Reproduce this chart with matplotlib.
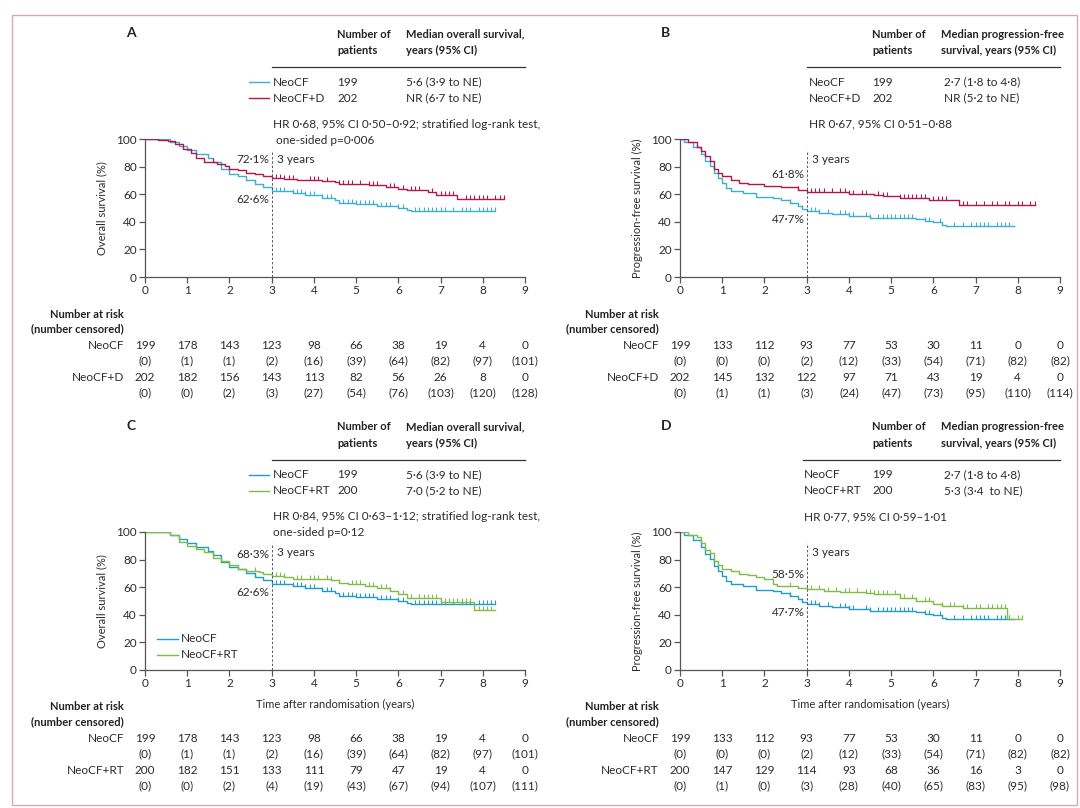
import numpy as np
import matplotlib.pyplot as plt
from matplotlib.transforms import blended_transform_factory

plt.rcParams['font.family'] = ['Lato', 'DejaVu Sans']
plt.rcParams['font.size'] = 7.5

W, H = 1080, 808
TXT = "#2b2b2b"
AXC = "#555555"
CYAN = "#3aafd2"
BLUE = "#1f9bcc"
RED = "#b3174b"
GREEN = "#7dbd45"

# KAPLAN-MEIER CURVES (years, %)
os_neocf_t = [0, 0.6, 0.8, 1.0, 1.2, 1.5, 1.6, 1.8, 2.0, 2.2, 2.4, 2.6, 2.8, 3.0, 3.2, 3.5, 3.8, 4.2, 4.5, 4.6, 5.0, 5.5, 6.0, 6.2, 6.3, 8.3]
os_neocf_s = [100, 98, 95, 92, 89, 86.5, 83, 78.5, 75, 73, 70, 67.6, 65, 62.6, 62, 60.8, 59.6, 57.6, 55.9, 53.4, 52.9, 51.5, 50.2, 48.5, 47.8, 47.8]
os_neocf_cens = [0.55, 2.6, 3.1, 3.2, 3.3, 3.5, 3.6, 3.7, 3.8, 3.9, 4.0, 4.2, 4.3, 4.4, 4.7, 4.8, 4.9, 5.0, 5.1, 5.2, 5.3, 5.4, 5.6, 5.7, 5.8, 6.0, 6.1,
                 6.4, 6.5, 6.6, 6.7, 6.8, 6.9, 7.0, 7.1, 7.3, 7.5, 7.6, 7.7, 7.9, 8.0, 8.1, 8.2, 8.3]

os_d_t = [0, 0.3, 0.55, 0.7, 0.9, 1.1, 1.2, 1.4, 1.7, 1.9, 2.0, 2.2, 2.4, 2.6, 2.8, 3.0, 3.3, 3.6, 4.2, 4.5, 4.6, 5.0, 5.3, 5.7, 6.0, 6.2, 6.7, 6.9, 7.4, 8.5]
os_d_s = [100, 99.3, 98.5, 96.3, 93, 90, 86, 83.6, 82, 80.4, 78.4, 77.2, 75.5, 75, 73.5, 72.1, 71.3, 70.6, 69.9, 68.6, 67.6, 67.2, 66.7, 65.2, 64, 62.7, 61.3, 59.6, 56.5, 56.5]
os_d_cens = [1.6, 3.0, 3.1, 3.2, 3.3, 3.4, 3.5, 3.9, 4.0, 4.1, 4.3, 4.6, 4.7, 4.8, 4.9, 5.1, 5.3, 5.4, 5.5, 5.8, 5.9, 6.1, 6.3, 6.4, 6.5,
             6.8, 7.0, 7.1, 7.2, 7.3, 7.6, 7.7, 7.8, 7.9, 8.0, 8.1, 8.3, 8.4, 8.5]

os_rt_t = [0, 0.6, 0.8, 1.0, 1.2, 1.4, 1.6, 1.8, 2.0, 2.2, 2.4, 2.7, 2.8, 3.0, 3.3, 3.5, 4.4, 4.6, 4.8, 5.2, 5.5, 5.8, 6.0, 6.2, 7.0, 7.8, 8.3]
os_rt_s = [100, 97.8, 93, 89.5, 87.6, 85.2, 81.1, 78.7, 75.8, 73.4, 71.5, 70.8, 69.9, 68.3, 67.5, 65.6, 65, 63.2, 62, 60.8, 59.1, 57.2, 54.8, 52.4, 49.5, 43.5, 43.5]
os_rt_cens = [0.55, 1.2, 1.6, 2.6, 3.0, 3.1, 3.2, 3.3, 3.6, 3.7, 3.9, 4.0, 4.1, 4.3, 4.4, 4.6, 4.9, 5.0, 5.1, 5.3, 5.4, 5.6, 5.7, 5.8, 6.1,
              6.3, 6.5, 6.6, 6.7, 6.8, 6.9, 7.1, 7.2, 7.3, 7.4, 7.5, 7.6, 7.7, 7.9, 8.0, 8.1, 8.2]

pfs_neocf_t = [0, 0.1, 0.3, 0.5, 0.6, 0.7, 0.8, 0.9, 1.0, 1.1, 1.2, 1.5, 1.8, 2.2, 2.4, 2.6, 2.8, 2.9, 3.0, 3.3, 3.6, 4.0, 4.5, 5.0, 5.6, 5.8, 6.0, 6.2, 6.3, 7.9]
pfs_neocf_s = [100, 97.5, 93.9, 89, 84, 80.4, 75.5, 71.8, 68, 64.5, 62, 60.8, 58.3, 57.1, 55.9, 53.9, 51.5, 49.5, 47.7, 46.6, 45.6, 44.1, 43.1, 42.4, 41.7, 40.7, 40, 37.5, 37, 37]
pfs_neocf_cens = [2.6, 2.9, 3.1, 3.2, 3.3, 3.5, 3.8, 3.9, 4.0, 4.1, 4.4, 4.5, 4.7, 4.8, 4.9, 5.0, 5.1, 5.2, 5.3, 5.4, 5.5, 5.8, 5.9, 6.15,
                  6.5, 6.7, 6.9, 7.0, 7.1, 7.2, 7.3, 7.5, 7.6, 7.7, 7.8]

pfs_d_t = [0, 0.2, 0.4, 0.5, 0.6, 0.7, 0.8, 0.9, 1.0, 1.2, 1.4, 1.6, 2.0, 2.4, 2.8, 3.0, 3.3, 4.0, 4.6, 4.8, 5.2, 5.6, 5.9, 6.6, 8.4]
pfs_d_s = [100, 97.5, 93.9, 91.4, 87.7, 84, 78, 75.5, 73, 70, 68, 67.4, 66.2, 65.2, 63.2, 61.8, 61.3, 60.3, 59.6, 58.8, 57.6, 57.1, 55.9, 52.5, 52.5]
pfs_d_cens = [2.8, 3.1, 3.2, 3.3, 3.4, 3.6, 3.8, 3.9, 4.0, 4.1, 4.3, 4.4, 4.7, 4.8, 4.9, 5.2, 5.3, 5.4, 5.5, 5.6, 5.7, 5.8, 6.0, 6.1,
              6.2, 6.3, 6.7, 6.8, 7.0, 7.2, 7.4, 7.5, 7.7, 7.8, 8.0, 8.1, 8.3, 8.4]

pfs_rt_t = [0, 0.2, 0.4, 0.5, 0.6, 0.7, 0.8, 0.9, 1.0, 1.2, 1.4, 1.6, 1.8, 2.0, 2.2, 2.3, 2.8, 3.0, 3.4, 3.8, 4.4, 4.6, 5.2, 5.6, 6.0, 6.2, 6.7, 7.75, 8.1]
pfs_rt_s = [100, 97.8, 96.2, 91.9, 87, 84.7, 78.7, 75.8, 73.4, 71.5, 69.9, 68.7, 67.2, 65.6, 62, 60.8, 59.1, 58.5, 57.2, 56.5, 56, 54.8, 52.4, 50, 47.6, 46.4, 45, 36.8, 36.8]
pfs_rt_cens = [2.6, 3.0, 3.1, 3.3, 3.5, 3.7, 3.9, 4.0, 4.2, 4.4, 4.5, 4.6, 4.7, 4.8, 4.9, 5.1, 5.2, 5.3, 5.5, 5.6, 5.8, 5.9, 6.2,
               6.4, 6.5, 6.7, 6.8, 7.0, 7.1, 7.3, 7.4, 7.5, 7.6, 7.7, 7.8, 8.0, 8.1]

# NUMBER AT RISK (NUMBER CENSORED)
years = [0, 1, 2, 3, 4, 5, 6, 7, 8, 9]
risk_os_neocf = [199, 178, 143, 123, 98, 66, 38, 19, 4, 0]
cens_os_neocf = [0, 1, 1, 2, 16, 39, 64, 82, 97, 101]
risk_os_d = [202, 182, 156, 143, 113, 82, 56, 26, 8, 0]
cens_os_d = [0, 0, 2, 3, 27, 54, 76, 103, 120, 128]
risk_os_rt = [200, 182, 151, 133, 111, 79, 47, 19, 4, 0]
cens_os_rt = [0, 0, 2, 4, 19, 43, 67, 94, 107, 111]
risk_pfs_neocf = [199, 133, 112, 93, 77, 53, 30, 11, 0, 0]
cens_pfs_neocf = [0, 0, 0, 2, 12, 33, 54, 71, 82, 82]
risk_pfs_d = [202, 145, 132, 122, 97, 71, 43, 19, 4, 0]
cens_pfs_d = [0, 1, 1, 3, 24, 47, 73, 95, 110, 114]
risk_pfs_rt = [200, 147, 129, 114, 93, 68, 36, 16, 3, 0]
cens_pfs_rt = [0, 1, 0, 3, 28, 40, 65, 83, 95, 98]

panels = [
    dict(letter="A", x0=145, y0=139, ylabel="Overall survival (%)",
         head2=["Median overall survival,", "years (95% CI)"], headx=337, medx=406, linex=(272, 525), namex=273,
         groups=[("NeoCF", CYAN, 199, "5·6 (3·9 to NE)", os_neocf_t, os_neocf_s, os_neocf_cens, risk_os_neocf, cens_os_neocf),
                 ("NeoCF+D", RED, 202, "NR (6·7 to NE)", os_d_t, os_d_s, os_d_cens, risk_os_d, cens_os_d)],
         hr=["HR 0·68, 95% CI 0·50–0·92; stratified log-rank test,", " one-sided p=0·006"],
         pct=[("72·1%", 84.8), ("62·6%", 55.8)], hdr_legend=True, in_legend=False, xlabel=False),
    dict(letter="B", x0=680, y0=139, ylabel="Progression-free survival (%)",
         head2=["Median progression-free", "survival, years (95% CI)"], headx=872, medx=941, linex=(807, 1060), namex=809,
         groups=[("NeoCF", CYAN, 199, " 2·7 (1·8 to 4·8)", pfs_neocf_t, pfs_neocf_s, pfs_neocf_cens, risk_pfs_neocf, cens_pfs_neocf),
                 ("NeoCF+D", RED, 202, " NR (5·2 to NE)", pfs_d_t, pfs_d_s, pfs_d_cens, risk_pfs_d, cens_pfs_d)],
         hr=["HR 0·67, 95% CI 0·51–0·88"],
         pct=[("61·8%", 74.0), ("47·7%", 42.0)], hdr_legend=False, in_legend=False, xlabel=False),
    dict(letter="C", x0=145, y0=532, ylabel="Overall survival (%)",
         head2=["Median overall survival,", "years (95% CI)"], headx=337, medx=406, linex=(272, 525), namex=273,
         groups=[("NeoCF", BLUE, 199, "5·6 (3·9 to NE)", os_neocf_t, os_neocf_s, os_neocf_cens, risk_os_neocf, cens_os_neocf),
                 ("NeoCF+RT", GREEN, 200, "7·0 (5·2 to NE)", os_rt_t, os_rt_s, os_rt_cens, risk_os_rt, cens_os_rt)],
         hr=["HR 0·84, 95% CI 0·63–1·12; stratified log-rank test,", "one-sided p=0·12"],
         pct=[("68·3%", 84.0), ("62·6%", 56.0)], hdr_legend=True, in_legend=True, xlabel=True),
    dict(letter="D", x0=680, y0=532, ylabel="Progression-free survival (%)",
         head2=["Median progression-free", "survival, years (95% CI)"], headx=872, medx=941, linex=(803, 1060), namex=804,
         groups=[("NeoCF", BLUE, 199, " 2·7 (1·8 to 4·8)", pfs_neocf_t, pfs_neocf_s, pfs_neocf_cens, risk_pfs_neocf, cens_pfs_neocf),
                 ("NeoCF+RT", GREEN, 200, " 5·3 (3·4  to NE)", pfs_rt_t, pfs_rt_s, pfs_rt_cens, risk_pfs_rt, cens_pfs_rt)],
         hr=["HR 0·77, 95% CI 0·59–1·01"],
         pct=[("58·5%", 69.0), ("47·7%", 41.7)], hdr_legend=False, in_legend=False, xlabel=True),
]


def fx(x):
    return x / W


def fy(y):
    return 1 - y / H


fig = plt.figure(figsize=(W / 100, H / 100), dpi=100)

# PINK FRAME ROUND THE WHOLE FIGURE
frame = plt.Rectangle((fx(12), fy(805)), fx(1077) - fx(12), fy(15) - fy(805), transform=fig.transFigure,
                      fill=False, edgecolor="#dba7b7", lw=1.0)
fig.patches.append(frame)

AXW, AXH = 380, 138
for p in panels:
    x0, y0 = p["x0"], p["y0"]
    ax = fig.add_axes([fx(x0), fy(y0 + AXH), AXW / W, AXH / H])
    ax.set_xlim(0, 9)
    ax.set_ylim(0, 100)
    ax.spines[["top", "right"]].set_visible(False)
    for s in ["left", "bottom"]:
        ax.spines[s].set_color(AXC)
        ax.spines[s].set_linewidth(0.9)
    ax.set_xticks(years)
    ax.set_yticks([0, 20, 40, 60, 80, 100])
    ax.tick_params(colors=AXC, labelcolor=TXT, length=4, width=0.9, labelsize=8.5, pad=2)
    ax.patch.set_alpha(0)

    # CURVES + CENSOR TICKS
    for name, col, n, med, t, sv, cens, risk, cn in p["groups"]:
        ax.step(t, sv, where="post", color=col, lw=1.0)
        t_arr = np.array(t)
        s_arr = np.array(sv)
        idx = np.searchsorted(t_arr, cens, side="right") - 1
        ax.plot(cens, s_arr[idx], ls="none", marker=2, ms=3.2, mew=0.8, color=col)

    # 3 YEAR LINE + LABELS
    ax.plot([3, 3], [0, 92], ls=(0, (2.5, 2)), color="#4d5b69", lw=0.7)
    ax.text(3.12, 84.8, "3 years", ha="left", va="center", color=TXT, fontsize=8.5)
    for lab, yv in p["pct"]:
        ax.text(2.95, yv, lab, ha="right", va="center", color=TXT, fontsize=8.5)

    if p["in_legend"]:
        for (name, col, *_), yy in zip(p["groups"], [639, 655]):
            fig.lines.append(plt.Line2D([fx(157), fx(178)], [fy(yy), fy(yy)], color=col, lw=1.0, transform=fig.transFigure))
            fig.text(fx(181), fy(yy), name, ha="left", va="center", color=TXT, fontsize=8.5)

    fig.text(fx(x0 - 43), fy(y0 + AXH / 2), p["ylabel"], rotation=90, ha="center", va="center", color=TXT, fontsize=8)
    if p["xlabel"]:
        fig.text(fx(x0 + 190), fy(704), "Time after randomisation (years)", ha="center", va="center", color=TXT, fontsize=8)

    # HEADER TABLE ABOVE EACH PLOT
    top = y0 - 106
    fig.text(fx(x0 - 14), fy(top), p["letter"], ha="center", va="center", fontsize=10, fontweight="bold", color="#222222")
    fig.text(fx(p["headx"]), fy(top + 1), "Number of", ha="left", va="center", fontweight="bold", color="#222222", fontsize=8)
    fig.text(fx(p["headx"]), fy(top + 17), "patients", ha="left", va="center", fontweight="bold", color="#222222", fontsize=8)
    fig.text(fx(p["medx"]), fy(top + 1), p["head2"][0], ha="left", va="center", fontweight="bold", color="#222222", fontsize=8)
    fig.text(fx(p["medx"]), fy(top + 17), p["head2"][1], ha="left", va="center", fontweight="bold", color="#222222", fontsize=8)
    fig.lines.append(plt.Line2D([fx(p["linex"][0]), fx(p["linex"][1])], [fy(top + 34), fy(top + 34)],
                                color="#333333", lw=0.9, transform=fig.transFigure))
    for k, (name, col, n, med, *_) in enumerate(p["groups"]):
        yy = top + 49 + 16 * k
        if p["hdr_legend"]:
            fig.lines.append(plt.Line2D([fx(249), fx(269)], [fy(yy), fy(yy)], color=col, lw=1.0, transform=fig.transFigure))
        fig.text(fx(p["namex"]), fy(yy), name, ha="left", va="center", color=TXT, fontsize=8.5)
        fig.text(fx(p["headx"]), fy(yy), str(n), ha="left", va="center", color=TXT, fontsize=8.5)
        fig.text(fx(p["medx"]), fy(yy), med, ha="left", va="center", color=TXT, fontsize=8.5)
    for k, line in enumerate(p["hr"]):
        fig.text(fx(p["namex"]), fy(top + 91 + 16 * k), line, ha="left", va="center", color=TXT, fontsize=8.5)

    # NUMBER AT RISK TABLE
    rt = y0 + AXH + 37
    fig.text(fx(x0 - 21), fy(rt), "Number at risk", ha="right", va="center", fontweight="bold", color="#222222", fontsize=8)
    fig.text(fx(x0 - 21), fy(rt + 15), "(number censored)", ha="right", va="center", fontweight="bold", color="#222222", fontsize=8)
    tr = blended_transform_factory(ax.transData, fig.transFigure)
    for k, (name, col, n, med, t, sv, cens, risk, cn) in enumerate(p["groups"]):
        yy = rt + 31 + 32 * k
        fig.text(fx(x0 - 21), fy(yy), name, ha="right", va="center", color=TXT, fontsize=8.5)
        for yr, r, c in zip(years, risk, cn):
            ax.text(yr, fy(yy), str(r), transform=tr, ha="center", va="center", color=TXT, fontsize=8.5)
            ax.text(yr, fy(yy + 16), "(%d)" % c, transform=tr, ha="center", va="center", color=TXT, fontsize=8.5)

plt.savefig("out.png", dpi=100)
